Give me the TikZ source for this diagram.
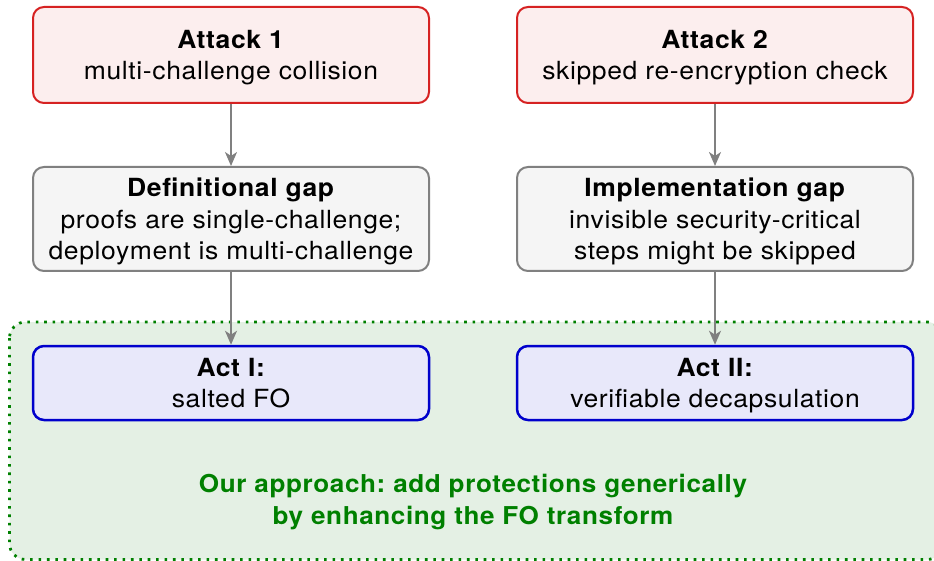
\documentclass[tikz,border=0pt]{standalone}
\usepackage{fontspec}
\setmainfont{TeX Gyre Heros}[FakeStretch=1.06, LetterSpace=2.5]
\usetikzlibrary{arrows.meta}
\definecolor{attackred}{RGB}{214,34,34}
\definecolor{attackfill}{RGB}{252,238,238}
\definecolor{gapgray}{RGB}{128,128,128}
\definecolor{gapfill}{RGB}{245,245,245}
\definecolor{actblue}{RGB}{0,0,204}
\definecolor{actfill}{RGB}{232,232,250}
\definecolor{zonegreen}{RGB}{0,128,0}
\definecolor{zonefill}{RGB}{228,240,228}
\begin{document}
\begin{tikzpicture}[x=1pt,y=-1pt,
  box/.style={rounded corners=11pt, line width=2pt, minimum width=396pt,
    align=center, inner sep=0pt, text depth=0pt,
    font=\fontsize{25}{31.5}\selectfont},
  attack/.style={box, draw=attackred, fill=attackfill, minimum height=96pt},
  gapbox/.style={box, draw=gapgray, fill=gapfill, minimum height=104pt},
  actbox/.style={box, draw=actblue, line width=2.5pt, fill=actfill, minimum height=74pt},
  link/.style={draw=gapgray, line width=2pt,
    -{Stealth[length=14pt, width=12pt, inset=4pt]}},
  zone/.style={draw=zonegreen, fill=zonefill, line width=2.8pt,
    dash pattern=on 2.6pt off 5.8pt, rounded corners=16pt}
]
\useasboundingbox (0,0) rectangle (934,561);

% shaded region of the proposed approach
\draw[zone] (9.5,322) rectangle (943,559.5);
\node[text=zonegreen, align=center, font=\fontsize{24.6}{32}\selectfont\bfseries]
  (approach) at (473,502)
  {Our approach:\ add protections generically\\by enhancing the FO transform};

% left column
\node[attack] (att1) at (231,55) {\textbf{Attack 1}\\multi-challenge collision};
\node[gapbox] (gap1) at (231,219)
  {\textbf{Definitional gap}\\proofs are single-challenge;\\deployment is multi-challenge};
\node[actbox] (act1) at (231,383) {\textbf{Act I:}\\salted FO};

% right column
\node[attack] (att2) at (715,55) {\textbf{Attack 2}\\skipped re-encryption check};
\node[gapbox] (gap2) at (715,219)
  {\textbf{Implementation gap}\\invisible security-critical\\steps might be skipped};
\node[actbox] (act2) at (715,383) {\textbf{Act II:}\\verifiable decapsulation};

% connectors
\draw[link] (att1) -- (gap1);
\draw[link] (gap1) -- (act1);
\draw[link] (att2) -- (gap2);
\draw[link] (gap2) -- (act2);
\end{tikzpicture}
\end{document}
